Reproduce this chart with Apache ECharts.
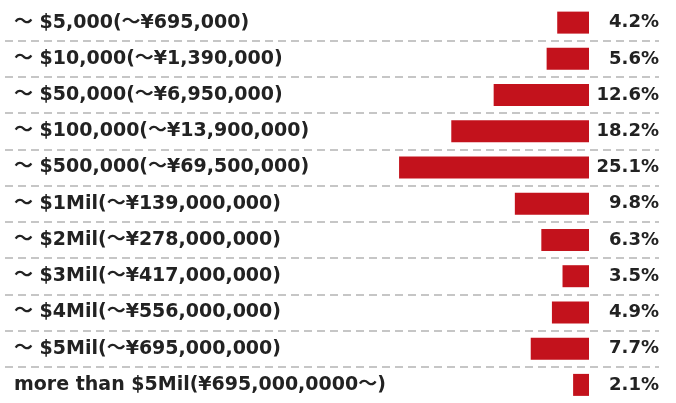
<!DOCTYPE html>
<html>
<head>
<meta charset="utf-8">
<script src="https://cdn.jsdelivr.net/npm/echarts@6/dist/echarts.min.js"></script>
<style>
  html, body { margin: 0; padding: 0; background: #fff; }
  #chart { width: 676px; height: 403px; }
</style>
</head>
<body>
<div id="chart"></div>
<script>
// 価格帯ラベル
const categories = [
  '〜 $5,000(〜¥695,000)',
  '〜 $10,000(〜¥1,390,000)',
  '〜 $50,000(〜¥6,950,000)',
  '〜 $100,000(〜¥13,900,000)',
  '〜 $500,000(〜¥69,500,000)',
  '〜 $1Mil(〜¥139,000,000)',
  '〜 $2Mil(〜¥278,000,000)',
  '〜 $3Mil(〜¥417,000,000)',
  '〜 $4Mil(〜¥556,000,000)',
  '〜 $5Mil(〜¥695,000,000)',
  'more than $5Mil(¥695,000,0000〜)',
];
// 割合 (%)
const shares = [4.2, 5.6, 12.6, 18.2, 25.1, 9.8, 6.3, 3.5, 4.9, 7.7, 2.1];
const shareLabels = shares.map((v) => `${v.toFixed(1)}%`);

const font = "'DejaVu Sans', 'Noto Sans CJK JP', sans-serif";
const textStyle = {
  color: '#222',
  fontWeight: 'bold',
  fontFamily: font,
};

const myChart = echarts.init(document.getElementById('chart'), null, { renderer: 'canvas' });

const option = {
  backgroundColor: '#fff',
  animation: false,
  grid: [
    { left: 362, right: 87, top: 4.5, height: 407 }, // バー
    { left: 5, right: 17, top: 4.5, height: 407 }, // 点線の区切り
  ],
  xAxis: [
    { gridIndex: 0, type: 'value', inverse: true, min: 0, max: 30, show: false },
    { gridIndex: 1, type: 'value', min: 0, max: 1, show: false },
  ],
  yAxis: [
    {
      gridIndex: 0,
      type: 'category',
      inverse: true,
      position: 'left',
      data: categories,
      axisLine: { show: false, onZero: false },
      axisTick: { show: false },
      splitLine: { show: false },
      axisLabel: { ...textStyle, fontSize: 19, align: 'left', margin: 348 },
    },
    {
      gridIndex: 0,
      type: 'category',
      inverse: true,
      position: 'right',
      data: shareLabels,
      axisLine: { show: false, onZero: false },
      axisTick: { show: false },
      splitLine: { show: false },
      axisLabel: { ...textStyle, fontSize: 18, align: 'right', margin: 70 },
    },
    {
      gridIndex: 1,
      type: 'category',
      inverse: true,
      data: categories,
      axisLine: { show: false, onZero: false },
      axisTick: { show: false },
      axisLabel: { show: false },
      splitLine: {
        show: true,
        showMinLine: false,
        showMaxLine: false,
        lineStyle: { color: '#b4b4b4', width: 1.5, type: [8, 5] },
      },
    },
  ],
  series: [
    {
      type: 'bar',
      xAxisIndex: 0,
      yAxisIndex: 0,
      data: shares,
      barWidth: 22,
      itemStyle: { color: '#c3121c' },
      silent: true,
    },
  ],
};

myChart.setOption(option);
</script>
</body>
</html>
